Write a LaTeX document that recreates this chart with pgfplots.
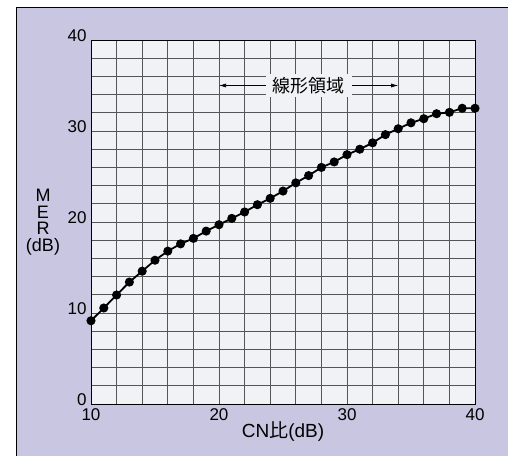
\documentclass[border=0pt]{standalone}
\usepackage{fontspec}
\setmainfont{Liberation Sans}
\newfontfamily\jp{Noto Sans CJK JP}
\usepackage{pgfplots}
\pgfplotsset{compat=1.18}
\usetikzlibrary{arrows.meta}
\definecolor{panel}{HTML}{C8C6E1}
\definecolor{plotbg}{HTML}{F1F2F5}
\definecolor{gridc}{HTML}{555555}

\begin{document}
\begin{tikzpicture}
% page background and purple panel
\fill[white] (0,0) rectangle (508pt,456pt);
\fill[panel] (16pt,0) rectangle (508pt,449pt);
\draw[black,line width=0.8pt] (16pt,0) -- (16pt,449pt) -- (508pt,449pt);
\begin{axis}[
    at={(91pt,52pt)}, anchor=south west,
    scale only axis,
    width=384pt, height=364pt,
    xmin=10, xmax=40, ymin=0, ymax=40,
    xtick={10,20,30,40}, ytick={0,10,20,30,40},
    minor xtick={12,14,...,38}, minor ytick={2,4,...,38},
    grid=both,
    major grid style={gridc,line width=0.8pt},
    minor grid style={gridc,line width=0.8pt},
    major tick length=0pt, minor tick length=0pt,
    axis background/.style={fill=plotbg},
    axis line style={black,line width=1pt},
    /pgf/number format/assume math mode=true,
    tick label style={font=\fontsize{17}{17}\selectfont},
    xticklabel style={yshift=-1pt},
    yticklabel style={yshift=4pt, xshift=-1pt},
    xlabel={CN{\jp 比}(dB)},
    xlabel style={font=\fontsize{19}{19}\selectfont, yshift=6pt},
    ylabel={M\\E\\R\\(dB)},
    ylabel style={font=\fontsize{18}{16.5}\selectfont, rotate=-90, align=center,
                  at={(axis description cs:-0.125,0.5)}, anchor=center},
]
\addplot[black, line width=1.8pt, mark=*, mark size=3.6pt] coordinates {
    (10,9.15) (11,10.55) (12,11.98) (13,13.4) (14,14.6) (15,15.8)
    (16,16.8) (17,17.6) (18,18.2) (19,19.0) (20,19.7) (21,20.4)
    (22,21.1) (23,21.9) (24,22.6) (25,23.4) (26,24.3) (27,25.1)
    (28,26.0) (29,26.6) (30,27.4) (31,28.0) (32,28.7) (33,29.6)
    (34,30.25) (35,30.9) (36,31.35) (37,31.9) (38,32.05) (39,32.5)
    (40,32.5)
};
\draw[black, line width=0.7pt, {Latex[length=7pt,width=4pt]}-{Latex[length=7pt,width=4pt]}]
    (axis cs:20,35) -- (axis cs:34,35);
\node[fill=plotbg, inner xsep=7pt, inner ysep=3pt, font=\jp\fontsize{18}{18}\selectfont]
    at (axis cs:27,35) {線形領域};
\end{axis}
\pgfresetboundingbox
\path (0,0) rectangle (508pt,456pt);
\end{tikzpicture}
\end{document}
